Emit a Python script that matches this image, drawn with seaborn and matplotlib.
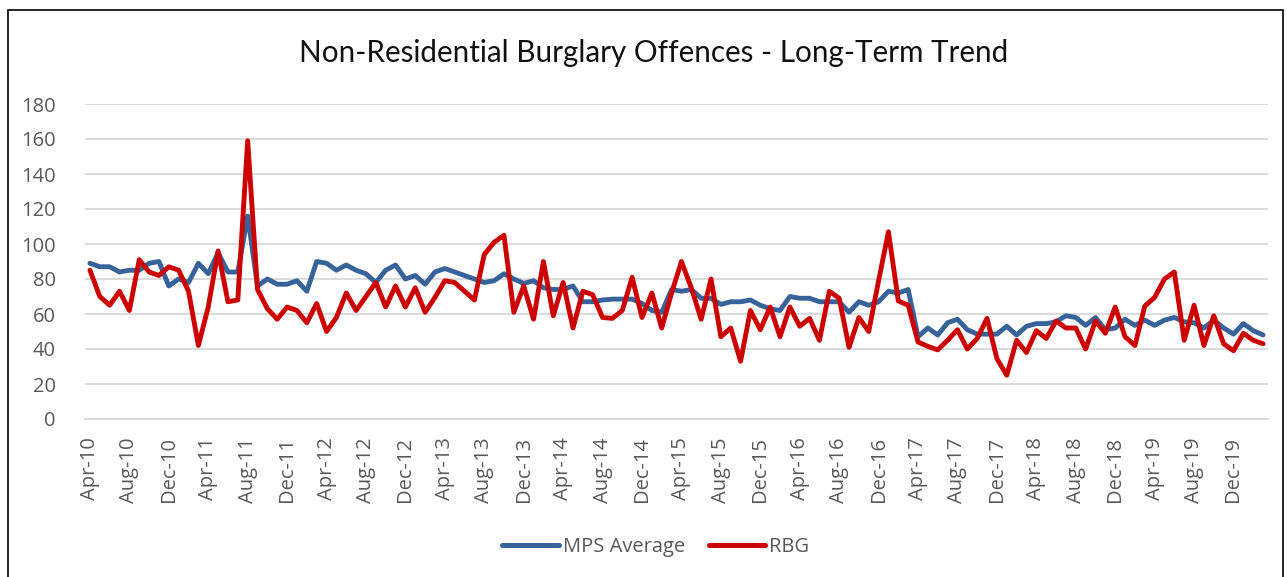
import pandas as pd
import matplotlib.pyplot as plt
import seaborn as sns
from matplotlib.patches import Rectangle

# monthly figures, Apr-10 to Mar-20
mps_average = [
    89, 87, 87, 84, 85, 85, 89, 90, 76, 80, 78, 89,
    83, 95, 84, 84, 116, 76, 80, 77, 77, 79, 73, 90,
    89, 85, 88, 85, 83, 78, 85, 88, 80, 82, 77, 84,
    86, 84, 82, 80, 78, 79, 83, 80, 77.5, 79, 75, 74,
    74, 76, 67, 67, 68, 68.5, 68.5, 68.5, 66, 62, 61, 74,
    73, 74, 69, 69, 65.5, 67, 67, 68, 65, 63, 62, 70,
    69, 69, 67, 67, 67, 61, 67, 65, 67, 73, 72, 74,
    47, 52, 48, 55, 57, 51, 48.5, 48.5, 48.5, 53, 48, 53,
    54.5, 54.5, 55.5, 59, 58, 53.5, 58, 51, 52, 57, 53.5, 56.5,
    53.5, 56.5, 58, 55.5, 55, 52, 56.5, 52, 48.5, 54.5, 50.5, 48,
]
rbg = [
    85, 70, 65, 73, 62, 91, 84, 82, 87, 85, 73, 42,
    64, 96, 67, 68, 159, 74, 63, 57, 64, 62, 55, 66,
    50, 58, 72, 62, 70, 78, 64, 76, 64, 75, 61, 69.5,
    79, 78, 73, 68, 94, 101, 105, 61, 76, 57, 90, 59,
    78, 52, 73, 71, 58, 57.5, 62, 81, 58, 72, 52, 72,
    90, 75, 57, 80, 47, 52, 33, 62, 51, 64, 47, 64,
    53, 57.5, 45, 73, 69, 41, 58, 50, 79, 107, 67.5, 65,
    44, 41.5, 39.5, 45, 51, 40, 46, 57.5, 34.5, 25, 45, 38,
    50.5, 46, 56, 52, 52, 40, 56, 49, 64, 47, 42, 64.5,
    69.5, 80, 84, 45, 65, 42, 59, 43, 39, 49, 45, 43,
]
months = pd.date_range("2010-04-01", periods=120, freq="MS").strftime("%b-%y").tolist()
series_names = ["MPS Average", "RBG"]
colors = {"MPS Average": "#38629A", "RBG": "#CC0000"}

df = pd.DataFrame({
    "idx": list(range(len(months))) * 2,
    "value": mps_average + rbg,
    "series": [series_names[0]] * len(months) + [series_names[1]] * len(months),
})

sns.set_theme(style="white")
plt.rcParams["font.family"] = ["Open Sans", "DejaVu Sans"]

fig = plt.figure(figsize=(12.87, 5.77), dpi=100)
ax = fig.add_axes([85 / 1287, 1 - 419 / 577, (1268 - 85) / 1287, (419 - 104) / 577])

sns.lineplot(data=df, x="idx", y="value", hue="series", hue_order=series_names,
             palette=colors, linewidth=3.5, ax=ax, legend=False)
for line in ax.lines:
    line.set_solid_joinstyle("round")
    line.set_solid_capstyle("round")

ax.set_xlim(-0.5, len(months) - 0.5)
ax.set_ylim(0, 180)
ax.set_yticks(range(0, 181, 20))
ax.yaxis.grid(True, color="#D9D9D9", linewidth=1.3)
ax.set_axisbelow(True)
ax.set_xlabel("")
ax.set_ylabel("")

# labels in the middle of every 4th month, tick marks on the boundaries
ax.set_xticks(range(0, len(months), 4))
ax.set_xticklabels(months[::4], rotation=90)
ax.set_xticks([i - 0.5 for i in range(0, len(months) + 1, 4)], minor=True)
ax.tick_params(axis="x", which="major", length=0, pad=13, labelsize=14.5, labelcolor="#595959")
ax.tick_params(axis="x", which="minor", length=8, width=1.3, color="#D9D9D9", direction="out")
ax.tick_params(axis="y", length=0, pad=21, labelsize=14.5, labelcolor="#595959")

for s in ["left", "right", "top"]:
    ax.spines[s].set_visible(False)
ax.spines["bottom"].set_color("#D9D9D9")
ax.spines["bottom"].set_linewidth(1.3)

fig.text(654 / 1287, 1 - 53 / 577, "Non-Residential Burglary Offences - Long-Term Trend",
         ha="center", va="center", fontsize=21.3, color="#111111",
         family=["Lato", "DejaVu Sans"])

handles = [plt.Line2D([], [], color=colors[n], linewidth=3.6, solid_capstyle="round") for n in series_names]
fig.legend(handles, series_names, loc="center", bbox_to_anchor=(656 / 1287, 1 - 547 / 577),
           ncol=2, frameon=False, fontsize=14.5, labelcolor="#595959",
           handlelength=2.8, handletextpad=0.2, columnspacing=1.2)

fig.patches.append(Rectangle((8 / 1287, -0.05), (1283 - 8) / 1287, 1.05 - 10 / 577,
                             transform=fig.transFigure, fill=False,
                             edgecolor="black", linewidth=1.2))

fig.savefig("out.png", dpi=100)
